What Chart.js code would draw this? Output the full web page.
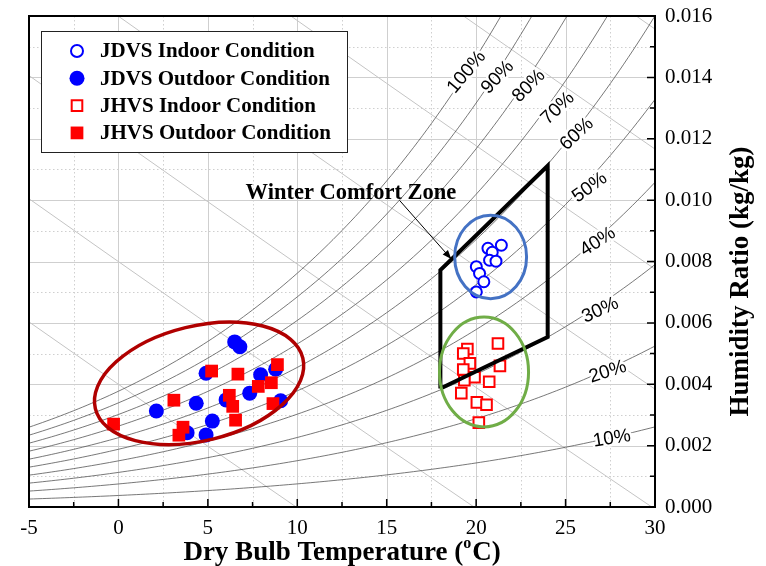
<!DOCTYPE html>
<html>
<head>
<meta charset="utf-8">
<script src="https://cdn.jsdelivr.net/npm/chart.js@4.4.0/dist/chart.umd.min.js"></script>
<style>
  html, body { margin: 0; padding: 0; background: #fff; }
</style>
</head>
<body>
<canvas id="chart" width="766" height="566"></canvas>
<script>
// ── Measured states (dry bulb °C, humidity ratio kg/kg) ─────────────────────

const jdvsIndoorT = [21.41, 20.66, 20.9, 20.75, 21.11, 20.01, 20.19, 20.43, 20.01]
const jdvsIndoorW = [0.00853, 0.00843, 0.0083, 0.00804, 0.00801, 0.00783, 0.00761, 0.00734, 0.00701]

const jdvsOutdoorT = [6.5, 6.79, 4.9, 7.95, 8.79, 7.34, 6.02, 4.35, 2.12, 9.07, 5.25, 3.84, 4.9]
const jdvsOutdoorW = [0.00538, 0.00522, 0.00436, 0.00431, 0.00449, 0.00371, 0.00349, 0.00338, 0.00313, 0.00346, 0.0028, 0.00242, 0.00235]

const jhvsIndoorT = [21.22, 19.51, 19.28, 19.65, 21.33, 19.28, 19.91, 20.73, 19.34, 19.17, 20.04, 20.58, 20.15]
const jhvsIndoorW = [0.00533, 0.00515, 0.005, 0.00468, 0.0046, 0.00448, 0.00423, 0.00408, 0.00413, 0.00371, 0.00341, 0.00333, 0.00275]

const jhvsOutdoorT = [5.21, 6.68, 8.89, 8.55, 7.82, 6.2, 3.1, 6.39, 8.64, 6.55, -0.27, 3.61, 3.38]
const jhvsOutdoorW = [0.00443, 0.00433, 0.00464, 0.00405, 0.00393, 0.00364, 0.00348, 0.00328, 0.00337, 0.00283, 0.0027, 0.0026, 0.00234]

// winter comfort zone outline (18–24 °C between the 30 % and 60 % RH curves)
const comfortT = [18, 18, 24, 24, 18]
const comfortW = [0.00386, 0.00772, 0.01112, 0.00554, 0.00386]

// chart background: relative humidity curves and enthalpy lines (kJ/kg)
const rhLevels = [10, 20, 30, 40, 50, 60, 70, 80, 90, 100]
const enthalpyLevels = [10, 20, 30, 40, 50, 60, 70]

const seriesNames = ['JDVS Indoor Condition', 'JDVS Outdoor Condition', 'JHVS Indoor Condition', 'JHVS Outdoor Condition']

// ── Psychrometrics ──────────────────────────────────────────────────────────

const P_ATM = 101.325

function satPressure(t) {
  return 0.61094 * Math.exp(17.625 * t / (t + 243.04))
}

function humidityRatio(t, rh) {
  const pw = rh / 100 * satPressure(t)
  return 0.622 * pw / (P_ATM - pw)
}

function enthalpyRatio(h, t) {
  return (h - 1.006 * t) / (2501 + 1.86 * t)
}

function rhCurve(rh) {
  const pts = []
  for (let t = -5; t <= 30.001; t += 0.25) pts.push({ x: t, y: humidityRatio(t, rh) })
  return pts
}

function enthalpyLine(h) {
  const pts = []
  for (let t = -5; t <= 30.001; t += 5) pts.push({ x: t, y: enthalpyRatio(h, t) })
  return pts
}

const zip = (xs, ys) => xs.map((x, i) => ({ x, y: ys[i] }))

// ── Annotation layout ───────────────────────────────────────────────────────

const FONT_SERIF = "'Liberation Serif', 'Times New Roman', serif"
const FONT_SANS = "'Liberation Sans', Arial, sans-serif"

// rh label anchors in data units, rotation in degrees
const rhLabels = [
  { text: '100%', t: 19.47, w: 0.01417, rot: -50 },
  { text: '90%', t: 21.2, w: 0.01400, rot: -47 },
  { text: '80%', t: 22.95, w: 0.01372, rot: -45 },
  { text: '70%', t: 24.57, w: 0.01299, rot: -44 },
  { text: '60%', t: 25.63, w: 0.01215, rot: -43 },
  { text: '50%', t: 26.35, w: 0.01041, rot: -36 },
  { text: '40%', t: 26.81, w: 0.00864, rot: -33 },
  { text: '30%', t: 26.94, w: 0.00641, rot: -25 },
  { text: '20%', t: 27.36, w: 0.00440, rot: -18 },
  { text: '10%', t: 27.59, w: 0.00223, rot: -9 }
]

const ellipses = [
  { t: 4.51, w: 0.00403, rx: 5.97, ry: 0.00187, rot: -13.7, color: '#b00000', width: 3.5 },
  { t: 20.81, w: 0.00815, rx: 2.01, ry: 0.00136, rot: 0, color: '#4472c4', width: 3 },
  { t: 20.44, w: 0.0044, rx: 2.49, ry: 0.00179, rot: 0, color: '#70ad47', width: 3 }
]

const zoneNote = { text: 'Winter Comfort Zone', t: 13.0, w: 0.01003, from: [15.72, 0.00999], to: [18.61, 0.00808] }

// ── Drawing helpers ─────────────────────────────────────────────────────────

function px(chart, t, w) {
  return [chart.scales.x.getPixelForValue(t), chart.scales.y.getPixelForValue(w)]
}

function drawGrid(chart) {
  const { ctx, chartArea: a, scales: { x, y } } = chart
  ctx.save()
  ctx.beginPath()
  ctx.rect(a.left, a.top, a.right - a.left, a.bottom - a.top)
  ctx.clip()
  ctx.lineWidth = 1
  ctx.strokeStyle = '#cfcfcf'
  const vline = v => { const p = Math.round(x.getPixelForValue(v)) + 0.5; ctx.beginPath(); ctx.moveTo(p, a.top); ctx.lineTo(p, a.bottom); ctx.stroke() }
  const hline = v => { const p = Math.round(y.getPixelForValue(v)) + 0.5; ctx.beginPath(); ctx.moveTo(a.left, p); ctx.lineTo(a.right, p); ctx.stroke() }
  ctx.setLineDash([1.5, 2.5])
  for (let t = -2.5; t < 30; t += 5) vline(t)
  for (let i = 1; i < 16; i += 2) hline(i * 0.001)
  ctx.setLineDash([])
  for (let t = 0; t < 30; t += 5) vline(t)
  for (let i = 2; i < 16; i += 2) hline(i * 0.001)
  ctx.restore()
}

function drawEllipses(chart) {
  const { ctx } = chart
  ctx.save()
  for (const e of ellipses) {
    const [cx, cy] = px(chart, e.t, e.w)
    const rxPx = chart.scales.x.getPixelForValue(e.t + e.rx) - cx
    const ryPx = cy - chart.scales.y.getPixelForValue(e.w + e.ry)
    ctx.beginPath()
    ctx.ellipse(cx, cy, rxPx, ryPx, e.rot * Math.PI / 180, 0, Math.PI * 2)
    ctx.strokeStyle = e.color
    ctx.lineWidth = e.width
    ctx.stroke()
  }
  ctx.restore()
}

function drawRhLabels(chart) {
  const { ctx } = chart
  ctx.save()
  ctx.font = `19px ${FONT_SANS}`
  ctx.textAlign = 'center'
  ctx.textBaseline = 'middle'
  for (const l of rhLabels) {
    const [lx, ly] = px(chart, l.t, l.w)
    ctx.save()
    ctx.translate(lx, ly)
    ctx.rotate(l.rot * Math.PI / 180)
    ctx.lineWidth = 5
    ctx.strokeStyle = '#fff'
    ctx.lineJoin = 'round'
    ctx.strokeText(l.text, 0, 0)
    ctx.fillStyle = '#000'
    ctx.fillText(l.text, 0, 0)
    ctx.restore()
  }
  ctx.restore()
}

function drawZoneNote(chart) {
  const { ctx } = chart
  ctx.save()
  ctx.font = `bold 22.5px ${FONT_SERIF}`
  ctx.fillStyle = '#000'
  ctx.textAlign = 'center'
  ctx.textBaseline = 'alphabetic'
  const [tx, ty] = px(chart, zoneNote.t, zoneNote.w)
  ctx.fillText(zoneNote.text, tx, ty)

  const [x0, y0] = px(chart, ...zoneNote.from)
  const [x1, y1] = px(chart, ...zoneNote.to)
  ctx.strokeStyle = '#000'
  ctx.lineWidth = 1
  ctx.beginPath()
  ctx.moveTo(x0, y0)
  ctx.lineTo(x1, y1)
  ctx.stroke()
  const ang = Math.atan2(y1 - y0, x1 - x0)
  ctx.translate(x1, y1)
  ctx.rotate(ang)
  ctx.beginPath()
  ctx.moveTo(0, 0)
  ctx.lineTo(-9, -3.5)
  ctx.lineTo(-9, 3.5)
  ctx.closePath()
  ctx.fill()
  ctx.restore()
}

function drawFrame(chart) {
  const { ctx, chartArea: a, scales: { x, y } } = chart
  ctx.save()
  ctx.strokeStyle = '#000'
  ctx.lineWidth = 2
  ctx.strokeRect(a.left, a.top, a.right - a.left, a.bottom - a.top)
  ctx.lineWidth = 1.5
  ctx.beginPath()
  for (let t = -5; t <= 30; t += 2.5) {
    const p = x.getPixelForValue(t)
    const len = (t % 5 === 0) ? 8 : 5
    ctx.moveTo(p, a.bottom)
    ctx.lineTo(p, a.bottom - len)
  }
  for (let i = 0; i <= 16; i++) {
    const p = y.getPixelForValue(i * 0.001)
    const len = (i % 2 === 0) ? 8 : 5
    ctx.moveTo(a.right, p)
    ctx.lineTo(a.right - len, p)
  }
  ctx.stroke()
  ctx.restore()
}

function drawLegend(chart) {
  const { ctx, chartArea: a } = chart
  const left = a.left + 12, top = a.top + 15, w = 306, h = 121
  ctx.save()
  ctx.fillStyle = '#fff'
  ctx.fillRect(left, top, w, h)
  ctx.strokeStyle = '#222'
  ctx.lineWidth = 1
  ctx.strokeRect(left + 0.5, top + 0.5, w, h)
  ctx.font = `bold 21px ${FONT_SERIF}`
  ctx.textBaseline = 'middle'
  seriesNames.forEach((name, i) => {
    const ds = chart.data.datasets[i]
    const cy = top + 20 + i * 27.3
    const mx = left + 36
    ctx.fillStyle = ds.pointBackgroundColor
    ctx.strokeStyle = ds.pointBorderColor
    ctx.lineWidth = ds.pointBorderWidth
    ctx.beginPath()
    if (ds.pointStyle === 'circle') {
      ctx.arc(mx, cy, ds.pointRadius + (ds.pointBorderWidth ? 0.5 : 0), 0, Math.PI * 2)
    } else {
      const s = ds.pointRadius * Math.SQRT1_2
      ctx.rect(mx - s, cy - s, 2 * s, 2 * s)
    }
    ctx.fill()
    if (ds.pointBorderWidth) ctx.stroke()
    ctx.fillStyle = '#000'
    ctx.fillText(name, left + 59, cy + 1)
  })
  ctx.restore()
}

function drawTitles(chart) {
  const { ctx, chartArea: a } = chart
  ctx.save()
  ctx.fillStyle = '#000'
  // x title with superscript degree mark
  const big = `bold 27px ${FONT_SERIF}`
  const small = `bold 16px ${FONT_SERIF}`
  const pre = 'Dry Bulb Temperature (', sup = 'o', post = 'C)'
  ctx.font = big
  const wPre = ctx.measureText(pre).width, wPost = ctx.measureText(post).width
  ctx.font = small
  const wSup = ctx.measureText(sup).width + 1
  let xs = (a.left + a.right) / 2 - (wPre + wSup + wPost) / 2
  const base = 560
  ctx.textBaseline = 'alphabetic'
  ctx.textAlign = 'left'
  ctx.font = big
  ctx.fillText(pre, xs, base)
  xs += wPre
  ctx.font = small
  ctx.fillText(sup, xs, base - 12)
  xs += wSup
  ctx.font = big
  ctx.fillText(post, xs, base)

  // y title on the right, reading upward
  ctx.translate(748, (a.top + a.bottom) / 2 + 20)
  ctx.rotate(-Math.PI / 2)
  ctx.textAlign = 'center'
  ctx.font = big
  ctx.fillText('Humidity Ratio (kg/kg)', 0, 0)
  ctx.restore()
}

const decor = {
  id: 'psychroDecor',
  beforeDatasetsDraw(chart) { drawGrid(chart) },
  afterDatasetsDraw(chart) {
    drawEllipses(chart)
    drawRhLabels(chart)
    drawZoneNote(chart)
    drawFrame(chart)
    drawLegend(chart)
  },
  afterDraw(chart) { drawTitles(chart) }
}

// ── Chart ───────────────────────────────────────────────────────────────────

const pointSet = (label, t, w, style, radius, fill, stroke, bw, order) => ({
  label, data: zip(t, w), showLine: false, order,
  pointStyle: style, pointRadius: radius, pointHoverRadius: radius,
  pointBackgroundColor: fill, pointBorderColor: stroke, pointBorderWidth: bw
})

const datasets = [
  pointSet(seriesNames[0], jdvsIndoorT, jdvsIndoorW, 'circle', 5.5, '#fff', '#0000ff', 2, 2),
  pointSet(seriesNames[1], jdvsOutdoorT, jdvsOutdoorW, 'circle', 7.5, '#0000ff', '#0000ff', 0, 3),
  pointSet(seriesNames[2], jhvsIndoorT, jhvsIndoorW, 'rect', 7.5, '#fff', '#ff0000', 2, 2),
  pointSet(seriesNames[3], jhvsOutdoorT, jhvsOutdoorW, 'rect', 9, '#ff0000', '#ff0000', 0, 2),
  {
    label: 'Winter Comfort Zone', data: zip(comfortT, comfortW), showLine: true, order: 1,
    borderColor: '#000', borderWidth: 4, pointRadius: 0, borderJoinStyle: 'miter'
  },
  ...rhLevels.map(rh => ({
    label: `${rh}% RH`, data: rhCurve(rh), showLine: true, order: 5,
    borderColor: '#555', borderWidth: 0.8, pointRadius: 0, tension: 0
  })),
  ...enthalpyLevels.map(h => ({
    label: `h=${h}`, data: enthalpyLine(h), showLine: true, order: 6,
    borderColor: '#c4c4c4', borderWidth: 1, pointRadius: 0
  }))
]

new Chart(document.getElementById('chart'), {
  type: 'scatter',
  data: { datasets },
  options: {
    responsive: false,
    animation: false,
    layout: { padding: { left: 29, top: 16, right: 0, bottom: 0 } },
    plugins: { legend: { display: false }, tooltip: { enabled: false } },
    scales: {
      x: {
        type: 'linear', min: -5, max: 30,
        ticks: { stepSize: 5, color: '#000', font: { family: FONT_SERIF, size: 21 }, padding: 9, maxRotation: 0 },
        grid: { display: false, drawTicks: false },
        border: { display: false },
        afterFit(s) { s.height = 59; s.paddingLeft = 0; s.paddingRight = 0 }
      },
      y: {
        type: 'linear', position: 'right', min: 0, max: 0.016,
        ticks: { stepSize: 0.002, color: '#000', font: { family: FONT_SERIF, size: 21 }, padding: 10,
          callback: v => v.toFixed(3) },
        grid: { display: false, drawTicks: false },
        border: { display: false },
        afterFit(s) { s.width = 111; s.paddingTop = 0; s.paddingBottom = 0 }
      }
    }
  },
  plugins: [decor]
})
</script>
</body>
</html>
